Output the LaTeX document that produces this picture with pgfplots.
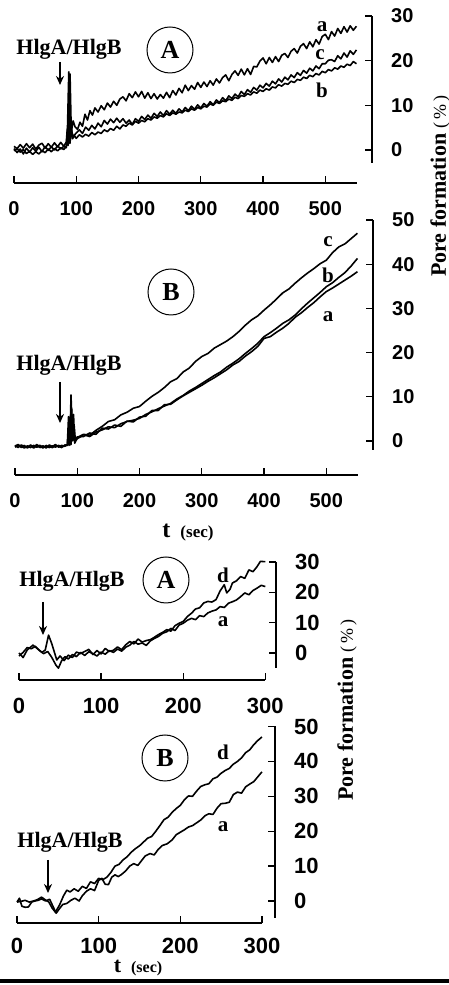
\documentclass[border=0pt]{standalone}
\usepackage{fontspec}
\setmainfont{Liberation Serif}
\newfontfamily\sansfont{Liberation Sans}
\usepackage{pgfplots}
\pgfplotsset{compat=1.18}
\usetikzlibrary{arrows.meta}
\newcommand\fs[1]{\fontsize{#1bp}{#1bp}\selectfont}
\pgfplotsset{
  panel/.style={
    scale only axis,
    axis x line*=bottom, axis y line*=right,
    tick align=inside, major tick length=7bp,
    tick style={black, line width=1.3bp},
    axis line style={line width=1.8bp, -},
    /pgf/number format/assume math mode=true,
    xticklabel style={font=\sansfont\bfseries\fs{#1}, inner sep=0pt, anchor=north, yshift=-18bp},
    yticklabel style={font=\sansfont\bfseries\fs{#1}, inner sep=0pt, anchor=west, xshift=19bp},
    clip=false,
  },
  curve/.style={black, line width=1.6bp, line join=round},
}
\begin{document}
\begin{tikzpicture}[x=1bp,y=1bp]
\useasboundingbox (0,0) rectangle (449,985);
% ---------------- Panel 1 (A, top) ----------------
\begin{axis}[panel=20, at={(14bp,802bp)}, anchor=south west,
  width=358bp, height=167bp, xmin=0, xmax=575, ymin=-7.4, ymax=30,
  xtick={0,100,200,300,400,500}, ytick={0,10,20,30},
  x axis line style={shorten >=15bp}, y axis line style={shorten <=20bp}]
\addplot[curve] coordinates {(0,0.8)(5,0.3)(10,1.2)(15,0.4)(20,1.4)(25,0.5)(30,1.3)(35,0.2)(40,1.1)(45,1.5)(50,0.4)(55,1.4)(60,0.6)(65,1.6)(70,0.7)(75,1.7)(80,0.8)(84,1.8)(86,5.5)(88,17.5)(89,3)(90,17)(92,4)(95,6.5)(98,5.2)(102,4.6)(106,6.2)(110,5.3)(114,8.0)(118,6.7)(122,8.8)(126,7.8)(130,9.4)(135,8.5)(140,9.9)(145,9.0)(150,10.5)(155,9.6)(160,10.9)(165,10.0)(170,11.4)(175,11.9)(180,11.0)(185,12.6)(190,11.7)(195,13.0)(200,11.9)(205,13.1)(210,11.6)(215,12.8)(220,11.5)(225,12.6)(230,11.4)(235,12.4)(240,11.6)(245,12.9)(250,11.7)(255,13.3)(260,12.3)(265,13.8)(270,12.8)(275,14.5)(280,13.3)(285,14.4)(290,13.6)(295,15.1)(300,14.0)(305,15.2)(310,14.2)(315,15.5)(320,14.5)(325,15.9)(330,15.0)(335,16.2)(340,16.8)(345,15.5)(350,16.9)(355,17.7)(360,16.7)(365,18.1)(370,16.8)(375,18.2)(380,16.9)(385,18.7)(390,18.6)(395,19.9)(400,20.6)(405,19.3)(410,20.7)(415,19.6)(420,20.9)(425,19.8)(430,21.2)(435,21.6)(440,20.7)(445,22.1)(450,22.7)(455,21.7)(460,23.2)(465,23.8)(470,22.7)(475,24.2)(480,23.1)(485,24.7)(490,23.7)(495,25.4)(500,25.9)(505,24.7)(510,26.5)(515,25.5)(520,27.2)(525,26.1)(530,27.6)(535,26.4)(540,27.8)(545,26.8)(550,27.7)};
\addplot[curve] coordinates {(0,-0.2)(5,0.3)(10,-0.5)(15,0.1)(20,-0.8)(25,-0.3)(30,-1.0)(35,-0.4)(40,-0.9)(45,-0.2)(50,-0.6)(55,0.2)(60,-0.4)(65,0.3)(70,-0.2)(75,0.5)(80,0.1)(84,0.8)(86,4.5)(87,1.0)(88,6.0)(90,1.5)(92,5.5)(94,2.5)(97,3.2)(100,2.6)(105,3.4)(110,2.9)(115,3.5)(120,3.1)(125,3.9)(130,3.4)(135,4.0)(140,3.7)(145,4.5)(150,4.1)(155,4.8)(160,4.4)(165,5.3)(170,4.7)(175,5.6)(180,5.3)(185,6.0)(190,5.6)(195,6.4)(200,6.0)(205,6.6)(210,6.3)(215,7.0)(220,6.7)(225,7.4)(230,7.1)(235,7.7)(240,7.4)(245,8.1)(250,7.7)(255,8.3)(260,8.0)(265,8.5)(270,8.3)(275,8.9)(280,8.6)(285,9.2)(290,8.9)(295,9.5)(300,9.2)(305,9.8)(310,9.6)(315,10.3)(320,10.0)(325,10.7)(330,10.4)(335,11.0)(340,10.8)(345,11.4)(350,11.1)(355,11.8)(360,11.5)(365,12.2)(370,12.0)(375,12.6)(380,12.3)(385,13.0)(390,12.7)(395,13.4)(400,13.1)(405,13.7)(410,13.4)(415,14.1)(420,13.9)(425,14.6)(430,14.3)(435,14.9)(440,14.7)(445,15.4)(450,15.1)(455,15.8)(460,15.6)(465,16.3)(470,16.0)(475,16.7)(480,16.4)(485,17.1)(490,16.8)(495,17.6)(500,17.3)(505,18.0)(510,17.7)(515,18.4)(520,18.1)(525,18.8)(530,18.5)(535,19.2)(540,18.9)(545,19.8)(550,19.3)};
\addplot[curve] coordinates {(0,0.3)(5,-0.6)(10,0.2)(15,-0.9)(20,0.4)(25,-0.5)(30,0.5)(35,-0.3)(40,0.6)(45,-0.4)(50,0.8)(55,-0.1)(60,0.7)(65,0.0)(70,0.9)(75,0.2)(80,0.8)(84,0.5)(86,3.5)(88,7.0)(90,2.0)(92,4.5)(95,3.0)(100,3.8)(105,4.5)(110,3.7)(115,5.1)(120,4.4)(125,5.5)(130,4.7)(135,6.0)(140,5.2)(145,6.6)(150,5.8)(155,6.9)(160,6.1)(165,7.1)(170,6.2)(175,7.0)(180,6.0)(185,6.7)(190,5.7)(195,7.0)(200,6.4)(205,7.5)(210,6.8)(215,7.8)(220,7.1)(225,8.2)(230,7.5)(235,8.5)(240,7.7)(245,8.8)(250,8.0)(255,8.9)(260,8.2)(265,9.2)(270,8.5)(275,9.5)(280,8.8)(285,9.8)(290,9.1)(295,10.1)(300,9.4)(305,10.4)(310,9.8)(315,10.8)(320,10.1)(325,11.2)(330,10.6)(335,11.7)(340,11.0)(345,12.1)(350,11.5)(355,12.5)(360,11.9)(365,13.1)(370,12.4)(375,13.5)(380,12.9)(385,14.0)(390,13.4)(395,14.5)(400,13.9)(405,14.9)(410,14.3)(415,15.4)(420,14.8)(425,15.9)(430,15.2)(435,16.3)(440,15.7)(445,16.8)(450,16.2)(455,17.3)(460,16.7)(465,17.8)(470,17.2)(475,18.3)(480,17.7)(485,18.8)(490,18.2)(495,19.3)(500,19.3)(505,20.1)(510,20.2)(515,19.8)(520,21.1)(525,20.4)(530,21.7)(535,20.8)(540,22.2)(545,21.4)(550,22.4)};
\end{axis}
% ---------------- Panel 2 (B, top) ----------------
\begin{axis}[panel=20, at={(15bp,510bp)}, anchor=south west,
  width=358bp, height=255bp, xmin=0, xmax=575, ymin=-7.7, ymax=50,
  xtick={0,100,200,300,400,500}, ytick={0,10,20,30,40,50},
  x axis line style={shorten >=15bp}, y axis line style={shorten <=25bp}]
\addplot[curve] coordinates {(0,-1.2)(5,-0.8)(10,-1.5)(15,-1.0)(20,-1.6)(25,-0.9)(30,-1.4)(35,-0.8)(40,-1.5)(45,-1.1)(50,-1.6)(55,-0.9)(60,-1.3)(65,-0.8)(70,-1.4)(75,-1.0)(80,-1.2)(84,-0.9)(86,5.5)(88,-1.0)(90,10.4)(92,0.5)(94,6.0)(96,-0.5)(100,0.8)(110,1.5)(120,1.3)(130,2.4)(140,3.3)(150,4.4)(160,4.8)(170,5.9)(180,6.5)(190,7.4)(200,7.8)(210,9.0)(220,10.1)(230,11.0)(240,12.1)(250,13.4)(260,14.1)(270,15.6)(280,16.5)(290,18.0)(300,19.1)(310,19.8)(320,21.0)(330,21.8)(340,22.6)(350,23.6)(360,24.8)(370,26.2)(380,27.4)(390,28.3)(400,29.6)(410,30.8)(420,32.1)(430,33.5)(440,34.4)(450,35.7)(460,36.9)(470,38.0)(480,39.0)(490,40.1)(500,40.9)(510,42.6)(520,43.9)(530,44.6)(540,45.8)(550,47.0)};
\addplot[curve] coordinates {(0,-1.4)(5,-1.0)(10,-1.2)(15,-1.6)(20,-1.1)(25,-1.5)(30,-1.0)(35,-1.4)(40,-1.2)(45,-1.6)(50,-1.0)(55,-1.5)(60,-1.1)(65,-1.4)(70,-1.0)(75,-1.3)(80,-1.1)(84,-0.8)(87,4.0)(89,-0.5)(91,7.5)(93,0.0)(95,3.5)(97,0.0)(100,0.5)(110,1.4)(120,1.0)(130,2.0)(140,2.5)(150,3.2)(160,3.0)(170,3.9)(180,4.4)(190,4.7)(200,5.1)(210,6.0)(220,6.6)(230,7.3)(240,7.9)(250,8.5)(260,9.5)(270,10.3)(280,11.3)(290,12.1)(300,13.0)(310,13.9)(320,14.8)(330,15.6)(340,16.7)(350,17.6)(360,18.6)(370,19.8)(380,20.9)(390,22.1)(400,23.6)(410,24.5)(420,25.5)(430,26.6)(440,27.4)(450,28.5)(460,29.9)(470,31.2)(480,32.4)(490,33.6)(500,34.9)(510,35.8)(520,37.0)(530,38.1)(540,39.6)(550,41.3)};
\addplot[curve] coordinates {(0,-1.0)(5,-1.5)(10,-0.9)(15,-1.3)(20,-1.4)(25,-1.0)(30,-1.6)(35,-1.1)(40,-1.0)(45,-1.4)(50,-1.2)(55,-1.3)(60,-1.5)(65,-1.1)(70,-1.2)(75,-1.5)(80,-0.9)(85,-1.0)(88,3.0)(90,-0.8)(92,5.0)(95,0.2)(100,0.9)(110,1.0)(120,1.8)(130,1.5)(140,2.9)(150,2.7)(160,3.6)(170,3.3)(180,4.5)(190,4.3)(200,5.4)(210,5.6)(220,6.9)(230,6.9)(240,8.2)(250,8.3)(260,9.3)(270,10.2)(280,11.0)(290,11.8)(300,12.6)(310,13.5)(320,14.3)(330,15.2)(340,16.1)(350,17.2)(360,18.0)(370,19.2)(380,20.2)(390,21.4)(400,23.2)(410,23.6)(420,24.6)(430,25.5)(440,26.6)(450,28.0)(460,29.0)(470,30.2)(480,31.3)(490,32.6)(500,33.8)(510,34.6)(520,35.5)(530,36.4)(540,37.3)(550,38.3)};
\end{axis}
% ---------------- Panel 3 (A, bottom) ----------------
\begin{axis}[panel=22, at={(19bp,305bp)}, anchor=south west,
  width=257bp, height=118bp, xmin=0, xmax=313, ymin=-8.9, ymax=30,
  xtick={0,100,200,300}, ytick={0,10,20,30},
  x axis line style={shorten >=11bp}, y axis line style={shorten <=12bp}]
\addplot[curve] coordinates {(0,0)(5,-1.5)(10,1.0)(17,2.6)(22,1.5)(28,0.2)(32,1.0)(36,5.9)(40,3.0)(46,-2.3)(50,-1.0)(55,-2.5)(60,-0.7)(65,-1.5)(70,0.3)(75,-0.2)(80,0.5)(85,1.2)(90,-0.5)(95,0.8)(100,-0.3)(105,1.5)(110,0.5)(115,0.9)(120,2.0)(125,1.1)(130,2.7)(135,3.8)(140,3.0)(145,4.6)(150,3.6)(155,4.1)(160,4.4)(165,5.2)(170,6.1)(175,6.8)(180,7.7)(185,7.2)(190,9.0)(195,9.8)(200,10.4)(205,12.0)(210,13.1)(215,14.5)(220,14.9)(225,16.5)(230,17.0)(235,16.8)(240,17.6)(245,20.5)(250,22.5)(253,19.8)(257,21.0)(260,23.1)(265,23.8)(270,25.2)(275,24.6)(280,27.4)(285,26.8)(290,28.5)(294,30.2)(300,30.1)};
\addplot[curve] coordinates {(0,-1.0)(5,0.2)(10,1.8)(15,1.4)(20,2.2)(25,0.8)(30,-0.2)(35,0.5)(40,-1.5)(45,-4.0)(48,-5.0)(52,-2.5)(56,-1.2)(60,-2.0)(65,-0.5)(70,-1.2)(75,0.2)(80,-0.8)(85,0.4)(90,-0.2)(95,-1.0)(100,0.3)(105,-0.4)(110,0.8)(115,0.2)(120,1.3)(125,0.6)(130,1.9)(135,2.6)(140,3.8)(145,2.9)(150,3.3)(155,2.5)(160,4.0)(165,4.8)(170,5.5)(175,6.5)(180,7.0)(185,8.1)(190,7.4)(195,9.2)(200,9.8)(205,10.8)(210,11.4)(215,11.0)(220,12.3)(225,12.0)(230,13.2)(235,13.8)(240,14.2)(245,15.3)(250,15.0)(255,16.4)(260,16.9)(265,17.5)(270,18.6)(275,19.8)(280,19.2)(285,20.6)(290,21.4)(295,22.3)(300,21.9)};
\end{axis}
% ---------------- Panel 4 (B, bottom) ----------------
\begin{axis}[panel=22, at={(17bp,62bp)}, anchor=south west,
  width=258bp, height=196.5bp, xmin=0, xmax=316, ymin=-6.3, ymax=50,
  xtick={0,100,200,300}, ytick={0,10,20,30,40,50},
  xticklabel style={yshift=3bp},
  x axis line style={shorten >=13bp}, y axis line style={shorten <=5bp}]
\addplot[curve] coordinates {(0,-0.3)(5,-0.1)(10,0.2)(15,-0.3)(20,0.0)(25,0.4)(30,1.1)(35,0.3)(39,-0.3)(43,-2.0)(47,-3.2)(52,-1.2)(57,1.5)(61,3.1)(65,2.6)(70,3.5)(75,2.8)(80,4.2)(85,3.6)(90,5.5)(95,5.0)(100,6.5)(105,6.1)(110,6.8)(115,8.2)(120,10.0)(125,10.5)(130,11.8)(135,12.7)(140,14.0)(145,15.0)(150,15.8)(155,16.9)(160,18.0)(165,18.5)(170,20.0)(175,21.6)(180,23.3)(185,24.0)(190,25.4)(195,26.5)(200,27.4)(205,29.0)(210,30.1)(215,30.0)(220,31.5)(225,32.8)(230,33.3)(235,33.6)(240,35.0)(245,35.5)(250,36.6)(255,37.4)(260,38.0)(265,39.2)(270,40.0)(275,41.0)(280,42.5)(285,43.3)(290,44.8)(295,46.0)(300,47.0)};
\addplot[curve] coordinates {(0,-0.3)(3,0.8)(6,-1.5)(10,-1.8)(14,-1.7)(18,-0.3)(22,0.0)(26,0.2)(30,0.6)(35,0.0)(40,0.5)(44,-1.5)(48,-3.5)(52,-2.2)(56,-1.0)(61,-0.7)(66,0.2)(71,0.8)(76,0.0)(80,1.5)(85,2.8)(90,3.5)(95,3.0)(100,5.9)(104,6.5)(108,4.8)(112,4.7)(116,6.8)(120,7.5)(124,7.0)(128,7.6)(133,8.6)(138,10.0)(143,10.7)(148,10.2)(152,11.4)(157,12.9)(163,13.6)(168,13.2)(173,14.8)(178,15.9)(184,16.4)(190,17.5)(195,19.0)(200,19.7)(205,20.4)(210,21.2)(215,21.6)(220,22.4)(225,23.2)(230,24.4)(235,25.0)(240,24.8)(245,26.6)(250,27.9)(255,28.0)(260,28.3)(265,30.5)(270,31.2)(275,30.9)(280,32.7)(285,33.5)(290,34.2)(295,35.6)(300,37.0)};
\end{axis}
% ---------------- Annotations ----------------
\tikzset{hlg/.style={anchor=base, font=\bfseries\fs{22}, inner sep=0pt},
  circ/.style={circle, draw, line width=1bp, minimum size=46bp, inner sep=0pt, font=\bfseries\fs{26}},
  lab/.style={font=\bfseries\fs{21}, inner sep=0pt},
  arr/.style={line width=2.2bp, -{Stealth[length=9bp,width=8bp]}},
  ylab/.style={rotate=90, inner sep=0pt, font=\bfseries\fs{22}},
  tsec/.style={inner sep=0pt}}
% panel 1
\node[hlg] at (69,930) {HlgA/HlgB};
\draw[arr] (60,923) -- (60,900);
\node[circ] at (170,935) {A};
\node[lab] at (322,958) {a};
\node[lab] at (320,930) {c};
\node[lab] at (322,895) {b};
\node[ylab] at (440,799) {Pore formation {\mdseries\fs{18}(\,\%\,)}};
% panel 2
\node[hlg] at (69,614) {HlgA/HlgB};
\draw[arr] (60,603) -- (60,562);
\node[circ] at (171,693) {B};
\node[lab] at (328,743) {c};
\node[lab] at (328,710) {b};
\node[lab] at (328,668) {a};
\node[tsec] at (188,452) {\bfseries\fs{24}t\hspace{10bp}\fs{17}(sec)};
% panel 3
\node[hlg] at (72,398) {HlgA/HlgB};
\draw[arr] (43,383) -- (43,350);
\node[circ] at (166,405) {A};
\node[lab] at (223,410) {d};
\node[lab] at (223,363) {a};
\node[ylab] at (347,275) {Pore formation {\mdseries\fs{18}(\,\%\,)}};
% panel 4
\node[hlg] at (70,137) {HlgA/HlgB};
\draw[arr] (48,125) -- (48,92);
\node[circ] at (165,227) {B};
\node[lab] at (223,233) {d};
\node[lab] at (223,158) {a};
\node[tsec] at (138,17) {\bfseries\fs{22}t\hspace{10bp}\fs{16}(sec)};
\draw[line width=4bp] (0,4) -- (449,4);
\end{tikzpicture}
\end{document}
